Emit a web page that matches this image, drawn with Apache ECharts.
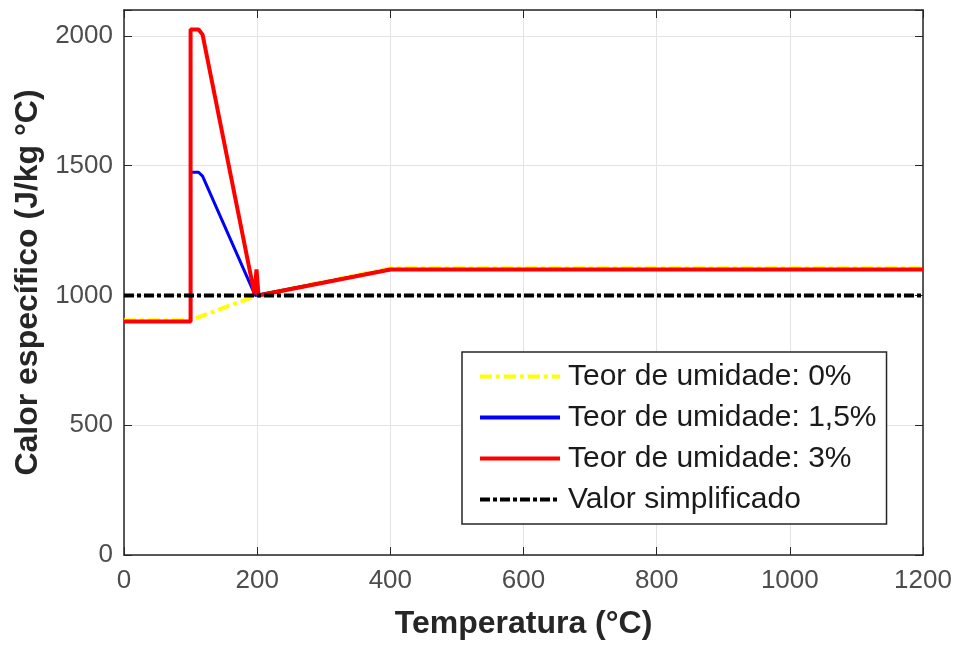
<!DOCTYPE html>
<html>
<head>
<meta charset="utf-8">
<script src="https://cdn.jsdelivr.net/npm/echarts@6/dist/echarts.min.js"></script>
<style>
  html, body { margin: 0; padding: 0; background: #fff; }
  #chart { width: 957px; height: 645px; }
</style>
</head>
<body>
<div id="chart"></div>
<script>
// temperatures (°C) and specific heat (J/kg °C)
var temp0 = [0, 100, 200, 400, 1200];
var heat0 = [905, 905, 1000, 1105, 1105];
var temp15 = [0, 100, 100, 112, 118, 197, 400, 1200];
var heat15 = [900, 900, 1475, 1475, 1460, 1000, 1100, 1100];
var temp3 = [0, 100, 100, 112, 118, 196, 199, 199, 202, 400, 1200];
var heat3 = [900, 900, 2025, 2025, 2005, 1005, 1005, 1100, 1000, 1100, 1100];
var tempS = [0, 1200];
var heatS = [1000, 1000];
var names = ['Teor de umidade: 0%', 'Teor de umidade: 1,5%', 'Teor de umidade: 3%', 'Valor simplificado'];
var xTicks = [0, 200, 400, 600, 800, 1000, 1200];
var yTicks = [0, 500, 1000, 1500, 2000];

function pairs(xs, ys) {
  return xs.map(function (x, i) { return [x, ys[i]]; });
}

var font = 'Liberation Sans, Arial, Helvetica, sans-serif';
var axisColor = '#262626';

var chart = echarts.init(document.getElementById('chart'));
chart.setOption({
  animation: false,
  backgroundColor: '#fff',
  grid: { left: 124, right: 34, top: 10, bottom: 87 },
  legend: {
    orient: 'vertical',
    left: 462, top: 352,
    backgroundColor: '#fff',
    borderColor: axisColor,
    borderWidth: 1.5,
    borderRadius: 0,
    padding: [9, 10, 9, 16],
    itemWidth: 80,
    itemHeight: 12,
    itemGap: 10,
    itemStyle: { opacity: 0 },
    lineStyle: { width: 4 },
    textStyle: { fontFamily: font, fontSize: 30, color: '#1a1a1a', lineHeight: 31, padding: [0, 0, 0, 3] },
    data: names.map(function (n) { return { name: n }; })
  },
  xAxis: [{
    type: 'value', min: 0, max: 1200, interval: 200,
    name: 'Temperatura (°C)', nameLocation: 'middle', nameGap: 53,
    nameTextStyle: { fontFamily: font, fontSize: 32, fontWeight: 'bold', color: axisColor },
    axisLine: { show: true, lineStyle: { color: axisColor, width: 1.5 } },
    axisTick: { show: true, inside: true, length: 8, lineStyle: { color: axisColor } },
    axisLabel: {
      fontFamily: font, fontSize: 26, color: '#4d4d4d', margin: 13,
      formatter: function (v) { return xTicks.indexOf(v) >= 0 ? String(v) : ''; }
    },
    splitLine: { show: true, lineStyle: { color: '#e3e3e3', width: 1 } }
  }, {
    type: 'value', min: 0, max: 1200, interval: 200, position: 'top',
    axisLine: { show: true, onZero: false, lineStyle: { color: axisColor, width: 1.5 } },
    axisTick: { show: true, inside: true, length: 8, lineStyle: { color: axisColor } },
    axisLabel: { show: false }, splitLine: { show: false }
  }],
  yAxis: [{
    type: 'value', min: 0, max: 2100, interval: 500,
    name: 'Calor específico (J/kg °C)', nameLocation: 'middle', nameGap: 72,
    nameTextStyle: { fontFamily: font, fontSize: 32, fontWeight: 'bold', color: axisColor },
    axisLine: { show: true, lineStyle: { color: axisColor, width: 1.5 } },
    axisTick: { show: true, inside: true, length: 8, lineStyle: { color: axisColor } },
    axisLabel: {
      fontFamily: font, fontSize: 26, color: '#4d4d4d', margin: 11,
      formatter: function (v) { return yTicks.indexOf(v) >= 0 ? String(v) : ''; }
    },
    splitLine: { show: true, lineStyle: { color: '#e3e3e3', width: 1 } }
  }, {
    type: 'value', min: 0, max: 2100, interval: 500, position: 'right',
    axisLine: { show: true, onZero: false, lineStyle: { color: axisColor, width: 1.5 } },
    axisTick: { show: true, inside: true, length: 8, lineStyle: { color: axisColor } },
    axisLabel: { show: false }, splitLine: { show: false }
  }],
  series: [{
    name: names[0], type: 'line', symbol: 'none', data: pairs(temp0, heat0),
    lineStyle: { color: '#ffff00', width: 4, type: [12, 4, 4, 4] },
    itemStyle: { color: '#ffff00' }
  }, {
    name: names[1], type: 'line', symbol: 'none', data: pairs(temp15, heat15),
    lineStyle: { color: '#0000ff', width: 3 },
    itemStyle: { color: '#0000ff' }
  }, {
    name: names[2], type: 'line', symbol: 'none', data: pairs(temp3, heat3),
    lineStyle: { color: '#ff0000', width: 4 },
    itemStyle: { color: '#ff0000' }
  }, {
    name: names[3], type: 'line', symbol: 'none', data: pairs(tempS, heatS),
    lineStyle: { color: '#000000', width: 4, type: [10, 3, 4, 3] },
    itemStyle: { color: '#000000' }
  }]
});
</script>
</body>
</html>
